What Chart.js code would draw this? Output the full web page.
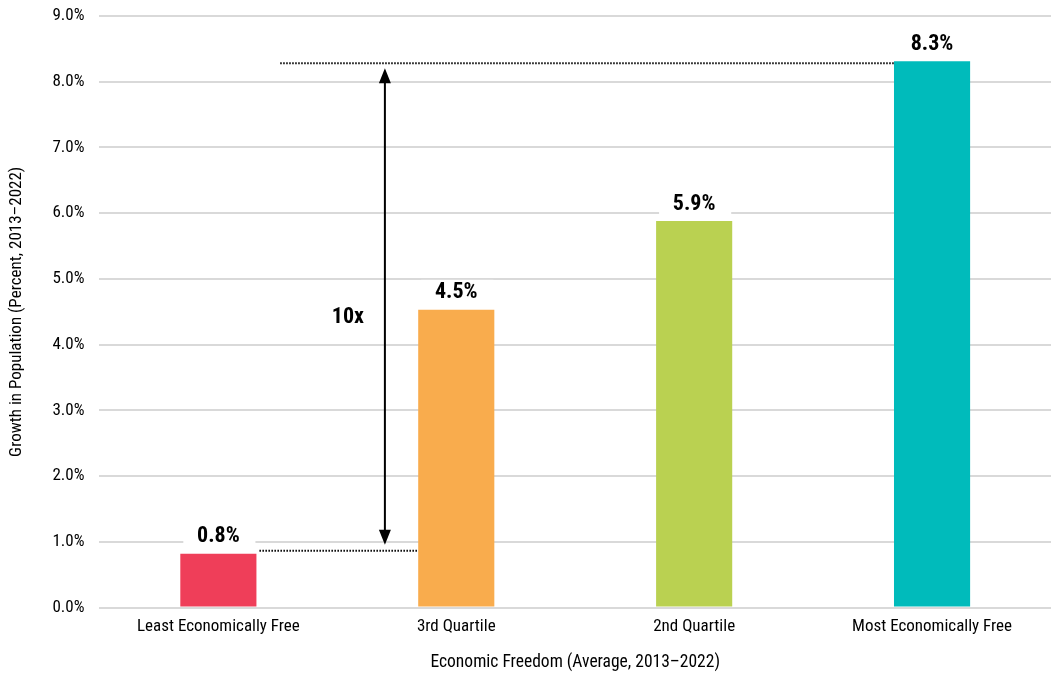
<!DOCTYPE html>
<html lang="en">
  <head>
    <meta charset="UTF-8" />
    <title>Population Growth by Economic Freedom</title>
    <style>
      html, body { margin: 0; padding: 0; background: #fff; }
      #wrap { width: 1051px; height: 677px; }
    </style>
  </head>
  <body>
    <div id="wrap"><canvas id="chart-1" width="1051" height="677"></canvas></div>
    <script src="https://cdn.jsdelivr.net/npm/chart.js"></script>
    <script>
      const categories = [
        "Least Economically Free",
        "3rd Quartile",
        "2nd Quartile",
        "Most Economically Free",
      ];
      const growth = [0.82, 4.53, 5.88, 8.31];
      const barColors = ["#ef3e59", "#f9ac4d", "#bad151", "#00bbbb"];
      const yTicks = [0, 1, 2, 3, 4, 5, 6, 7, 8, 9];

      const FONT = "'Roboto Condensed', 'Liberation Sans Narrow', 'DejaVu Sans Condensed', sans-serif";

      // value labels on a white box, plus the 10x comparison arrow
      const annotate = {
        id: "annotate",
        afterDatasetsDraw(chart) {
          const ctx = chart.ctx;
          const x = chart.scales.x;
          const y = chart.scales.y;
          const meta = chart.getDatasetMeta(0);
          const step = x.getPixelForValue(1) - x.getPixelForValue(0);

          ctx.save();
          ctx.font = "bold 22px " + FONT;
          ctx.textAlign = "center";
          ctx.textBaseline = "middle";
          meta.data.forEach((bar, i) => {
            const txt = growth[i].toFixed(1) + "%";
            const cy = bar.y - 17;
            ctx.fillStyle = "#fff";
            ctx.fillRect(bar.x - bar.width / 2 + 3, cy - 13, bar.width - 4, 26);
            ctx.fillStyle = "#000";
            ctx.fillText(txt, bar.x, cy);
          });

          // dotted guides from the lowest and highest bars
          const lo = meta.data[0];
          const hi = meta.data[3];
          const yLo = y.getPixelForValue(growth[0]) - 3;
          const yHi = y.getPixelForValue(growth[3]) + 2;
          ctx.strokeStyle = "#000";
          ctx.lineWidth = 2;
          ctx.setLineDash([1.5, 1.5]);
          ctx.beginPath();
          ctx.moveTo(lo.x + lo.width / 2 + 3, yLo);
          ctx.lineTo(meta.data[1].x - meta.data[1].width / 2, yLo);
          ctx.moveTo(x.getPixelForValue(0) + step * 0.26, yHi);
          ctx.lineTo(hi.x - hi.width / 2, yHi);
          ctx.stroke();
          ctx.setLineDash([]);

          // double-headed arrow
          const ax = x.getPixelForValue(0) + step * 0.70;
          const top = yHi + 5;
          const bot = yLo - 6;
          ctx.lineWidth = 2;
          ctx.beginPath();
          ctx.moveTo(ax, top + 12);
          ctx.lineTo(ax, bot - 12);
          ctx.stroke();
          ctx.fillStyle = "#000";
          ctx.beginPath();
          ctx.moveTo(ax, top);
          ctx.lineTo(ax - 6, top + 15);
          ctx.lineTo(ax + 6, top + 15);
          ctx.closePath();
          ctx.fill();
          ctx.beginPath();
          ctx.moveTo(ax, bot);
          ctx.lineTo(ax - 6, bot - 15);
          ctx.lineTo(ax + 6, bot - 15);
          ctx.closePath();
          ctx.fill();

          ctx.fillText("10x", ax - 37, y.getPixelForValue(4.42));
          ctx.restore();
        },
      };

      new Chart(document.getElementById("chart-1"), {
        type: "bar",
        data: {
          labels: categories,
          datasets: [
            {
              data: growth,
              backgroundColor: barColors,
              barPercentage: 0.32,
              categoryPercentage: 1,
            },
          ],
        },
        options: {
          responsive: false,
          animation: false,
          layout: { padding: { top: 16, right: 0, left: 3, bottom: 0 } },
          plugins: {
            legend: { display: false },
            tooltip: { enabled: false },
          },
          scales: {
            x: {
              grid: { display: false },
              border: { display: false },
              ticks: { color: "#000", font: { family: FONT, size: 17 }, padding: 1 },
              title: {
                display: true,
                text: "Economic Freedom (Average, 2013–2022)",
                color: "#000",
                font: { family: FONT, size: 17.5 },
                padding: { top: 14 },
              },
            },
            y: {
              min: 0,
              max: 9,
              afterBuildTicks(axis) {
                axis.ticks = yTicks.map((v) => ({ value: v }));
              },
              afterFit(axis) {
                axis.paddingTop = 0;
              },
              grid: { color: "#d9d9d9", lineWidth: 2, drawTicks: false },
              border: { display: false },
              ticks: {
                color: "#000",
                font: { family: FONT, size: 17 },
                padding: 15,
                callback: (v) => Number(v).toFixed(1) + "%",
              },
              title: {
                display: true,
                text: "Growth in Population (Percent, 2013–2022)",
                color: "#000",
                font: { family: FONT, size: 17 },
                padding: { bottom: 10 },
              },
            },
          },
        },
        plugins: [annotate],
      });
    </script>
  </body>
</html>
